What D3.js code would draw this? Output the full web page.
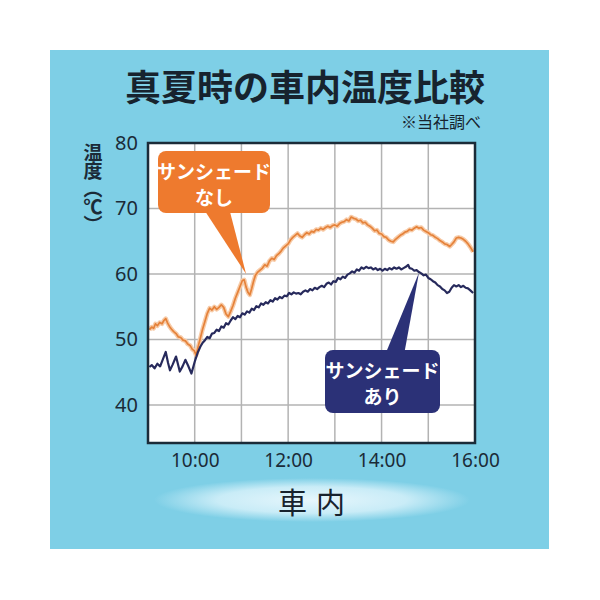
<!DOCTYPE html>
<html>
<head>
<meta charset="utf-8">
<script src="https://cdn.jsdelivr.net/npm/d3@7"></script>
<style>
  html, body { margin: 0; padding: 0; background: #fff; }
  svg { display: block; }
  text { font-family: "Noto Sans CJK JP", "Noto Sans", sans-serif; }
</style>
</head>
<body>
<svg id="chart" width="600" height="600"></svg>
<script>
// [hour, temperature]
var nashiData = [
  [9.03, 51.5], [9.08, 51.9], [9.12, 51.7], [9.16, 52.4], [9.2, 52.1], [9.25, 52.6], [9.3, 52.4], [9.34, 52.9],
  [9.38, 53.2], [9.42, 52.5], [9.46, 52.0], [9.5, 51.6], [9.55, 51.2], [9.6, 50.9], [9.65, 50.4], [9.7, 50.3],
  [9.75, 49.9], [9.8, 49.8], [9.85, 49.3], [9.9, 49.1], [9.95, 48.5], [9.99, 48.3], [10.03, 47.6],
  [10.07, 48.8], [10.12, 50.2], [10.17, 51.6], [10.22, 52.8], [10.27, 54.0], [10.32, 54.8], [10.37, 54.5],
  [10.42, 55.0], [10.47, 54.6], [10.52, 54.9], [10.57, 55.3], [10.62, 54.9], [10.67, 53.9], [10.72, 53.5],
  [10.77, 54.3], [10.82, 55.2], [10.87, 56.3], [10.92, 57.2], [10.97, 58.1], [11.02, 59.0], [11.06, 59.1],
  [11.1, 58.0], [11.14, 57.2], [11.18, 56.8], [11.22, 57.8], [11.26, 58.9], [11.3, 59.8], [11.35, 60.3],
  [11.4, 60.6], [11.45, 60.9], [11.5, 61.4], [11.55, 61.2], [11.6, 62.0], [11.65, 62.4], [11.7, 62.2],
  [11.75, 62.8], [11.8, 63.1], [11.85, 63.5], [11.9, 64.0], [11.95, 64.3], [12.0, 64.6], [12.05, 65.2],
  [12.1, 65.6], [12.15, 65.9], [12.2, 66.2], [12.25, 65.8], [12.3, 65.6], [12.35, 66.0], [12.4, 66.3],
  [12.45, 66.1], [12.5, 66.5], [12.55, 66.4], [12.6, 66.8], [12.65, 66.7], [12.7, 67.0], [12.75, 66.8],
  [12.8, 67.1], [12.85, 67.3], [12.9, 67.1], [12.95, 67.4], [13.0, 67.5], [13.05, 67.3], [13.1, 67.7],
  [13.15, 67.9], [13.2, 68.0], [13.25, 68.3], [13.3, 68.1], [13.35, 68.7], [13.4, 68.5], [13.45, 68.4],
  [13.5, 68.1], [13.55, 68.2], [13.6, 67.8], [13.65, 67.9], [13.7, 67.5], [13.75, 67.3], [13.8, 67.0],
  [13.85, 66.6], [13.9, 66.7], [13.95, 66.2], [14.0, 66.1], [14.05, 65.7], [14.1, 65.6], [14.15, 65.2],
  [14.2, 65.0], [14.25, 64.9], [14.3, 65.3], [14.35, 65.6], [14.4, 65.9], [14.45, 66.1], [14.5, 66.4],
  [14.55, 66.5], [14.6, 66.8], [14.65, 66.7], [14.7, 67.0], [14.75, 67.2], [14.8, 67.0], [14.85, 67.1],
  [14.9, 66.7], [14.95, 66.5], [15.0, 66.3], [15.05, 66.0], [15.1, 65.9], [15.15, 65.6], [15.2, 65.4],
  [15.25, 65.1], [15.3, 64.9], [15.35, 64.6], [15.4, 64.5], [15.46, 64.2], [15.5, 64.5], [15.55, 64.9],
  [15.6, 65.5], [15.65, 65.6], [15.7, 65.5], [15.75, 65.3], [15.8, 65.0], [15.85, 64.6], [15.9, 64.1],
  [15.96, 63.4]
];

var ariData = [
  [9.03, 45.8], [9.08, 46.1], [9.14, 45.6], [9.2, 46.3], [9.26, 45.9], [9.32, 47.0], [9.38, 48.1], [9.43, 46.4],
  [9.47, 45.3], [9.53, 46.2], [9.6, 47.4], [9.65, 46.0], [9.68, 45.1], [9.74, 45.9], [9.8, 46.9], [9.86, 46.0],
  [9.93, 44.8], [10.0, 46.6], [10.07, 48.1], [10.12, 48.9], [10.17, 49.5], [10.22, 49.9], [10.27, 50.4],
  [10.32, 50.2], [10.37, 50.9], [10.42, 51.0], [10.47, 51.5], [10.52, 51.3], [10.57, 52.0], [10.62, 51.8],
  [10.67, 52.5], [10.72, 52.3], [10.77, 52.9], [10.82, 53.4], [10.87, 53.1], [10.92, 53.6], [10.97, 53.4],
  [11.02, 54.0], [11.07, 53.8], [11.12, 54.3], [11.17, 54.1], [11.22, 54.7], [11.27, 54.5], [11.32, 55.1],
  [11.37, 54.9], [11.42, 55.5], [11.47, 55.3], [11.52, 55.7], [11.57, 55.5], [11.62, 56.0], [11.67, 55.8],
  [11.72, 56.3], [11.77, 56.1], [11.82, 56.5], [11.87, 56.3], [11.92, 56.7], [11.97, 56.6], [12.02, 57.1],
  [12.07, 56.9], [12.12, 57.2], [12.17, 57.0], [12.22, 57.1], [12.27, 56.9], [12.32, 57.3], [12.37, 57.5],
  [12.42, 57.3], [12.47, 57.7], [12.52, 57.5], [12.57, 57.9], [12.62, 57.7], [12.67, 58.0], [12.72, 58.2],
  [12.77, 58.0], [12.82, 58.5], [12.87, 58.7], [12.92, 58.4], [12.97, 58.9], [13.02, 58.8], [13.07, 59.4],
  [13.12, 59.2], [13.17, 59.6], [13.22, 59.4], [13.27, 59.9], [13.32, 60.1], [13.37, 60.4], [13.42, 60.2],
  [13.47, 60.7], [13.52, 60.5], [13.57, 61.0], [13.62, 60.8], [13.67, 61.1], [13.72, 60.9], [13.77, 61.0],
  [13.82, 60.7], [13.87, 60.9], [13.92, 60.6], [13.97, 60.8], [14.02, 60.5], [14.07, 60.8], [14.12, 60.6],
  [14.17, 60.9], [14.22, 60.7], [14.27, 61.0], [14.32, 60.8], [14.37, 61.0], [14.42, 60.7], [14.47, 60.9],
  [14.52, 61.1], [14.57, 61.4], [14.6, 60.9], [14.65, 60.8], [14.7, 60.5], [14.75, 60.6], [14.8, 60.3],
  [14.85, 60.1], [14.9, 59.8], [14.95, 59.9], [15.0, 59.4], [15.05, 59.2], [15.1, 58.9], [15.15, 58.7],
  [15.2, 58.3], [15.25, 58.1], [15.3, 57.7], [15.35, 57.5], [15.4, 57.1], [15.45, 57.3], [15.5, 57.9],
  [15.55, 58.3], [15.6, 58.1], [15.65, 58.3], [15.7, 58.0], [15.75, 58.2], [15.8, 57.9], [15.85, 57.8],
  [15.9, 57.5], [15.96, 57.1]
];

var yTicks = [40, 50, 60, 70, 80];
var xTicks = [10, 12, 14, 16];
var xGrid = [10, 11, 12, 13, 14, 15];
var xTickLabels = ["10:00", "12:00", "14:00", "16:00"];

var svg = d3.select("#chart");

var x = d3.scaleLinear().domain([9, 16]).range([148, 475]);
var y = d3.scaleLinear().domain([34.2, 80]).range([443, 143]);

var defs = svg.append("defs");
var glow = defs.append("radialGradient").attr("id", "glow");
glow.append("stop").attr("offset", "0%").attr("stop-color", "#e6f6fc");
glow.append("stop").attr("offset", "60%").attr("stop-color", "#c9ecf7");
glow.append("stop").attr("offset", "100%").attr("stop-color", "#7ecfe6");

// blue panel
svg.append("rect")
    .attr("x", 50).attr("y", 50)
    .attr("width", 499).attr("height", 499)
    .attr("fill", "#7ecfe6");

// title
svg.append("text")
    .attr("x", 305).attr("y", 101)
    .attr("text-anchor", "middle")
    .attr("font-size", 36)
    .attr("font-weight", "bold")
    .attr("fill", "#17232e")
    .text("真夏時の車内温度比較");

svg.append("text")
    .attr("x", 481).attr("y", 128)
    .attr("text-anchor", "end")
    .attr("font-size", 16)
    .attr("fill", "#17232e")
    .text("※当社調べ");

// plot background
svg.append("rect")
    .attr("x", x(9)).attr("y", y(80))
    .attr("width", x(16) - x(9)).attr("height", y(34.2) - y(80))
    .attr("fill", "#fff");

// grid
svg.append("g").selectAll("line")
  .data(xGrid)
  .enter().append("line")
    .attr("x1", x).attr("x2", x)
    .attr("y1", y(80)).attr("y2", y(34.2))
    .attr("stroke", "#b3b3b3").attr("stroke-width", 1.5);

svg.append("g").selectAll("line")
  .data(yTicks.slice(0, 4))
  .enter().append("line")
    .attr("x1", x(9)).attr("x2", x(16))
    .attr("y1", y).attr("y2", y)
    .attr("stroke", "#b3b3b3").attr("stroke-width", 1.5);

// lines
var line = d3.line()
    .x(function(d) { return x(d[0]); })
    .y(function(d) { return y(d[1]); });

svg.append("path")
    .datum(nashiData)
    .attr("d", line)
    .attr("fill", "none")
    .attr("stroke", "#f7cba8")
    .attr("stroke-width", 4.5)
    .attr("stroke-linejoin", "round");
svg.append("path")
    .datum(nashiData)
    .attr("d", line)
    .attr("fill", "none")
    .attr("stroke", "#e5823a")
    .attr("stroke-width", 1.7)
    .attr("stroke-linejoin", "round");

svg.append("path")
    .datum(ariData)
    .attr("d", line)
    .attr("fill", "none")
    .attr("stroke", "#272a5c")
    .attr("stroke-width", 2.2)
    .attr("stroke-linejoin", "round");

// frame
svg.append("rect")
    .attr("x", x(9)).attr("y", y(80))
    .attr("width", x(16) - x(9)).attr("height", y(34.2) - y(80))
    .attr("fill", "none")
    .attr("stroke", "#1b2b38")
    .attr("stroke-width", 2.5);

// axes
var yAxis = svg.append("g")
    .attr("transform", "translate(" + (x(9) - 10) + ",0)")
    .call(d3.axisLeft(y).tickValues(yTicks).tickSize(0).tickPadding(0));
yAxis.select(".domain").remove();
yAxis.selectAll("text")
    .attr("font-size", 20)
    .attr("fill", "#1b2b38")
    .style("font-family", "'Noto Sans', sans-serif");

var xAxis = svg.append("g")
    .attr("transform", "translate(0," + (y(34.2) + 10) + ")")
    .call(d3.axisBottom(x).tickValues(xTicks).tickSize(0).tickPadding(0)
      .tickFormat(function(d, i) { return xTickLabels[i]; }));
xAxis.select(".domain").remove();
xAxis.selectAll("text")
    .attr("font-size", 19)
    .attr("fill", "#1b2b38")
    .style("font-family", "'Noto Sans', sans-serif");

// y axis title (vertical)
svg.append("text")
    .attr("x", 93).attr("y", 143)
    .attr("writing-mode", "tb")
    .attr("font-size", 19)
    .attr("font-weight", "bold")
    .attr("fill", "#1b2b38")
    .style("letter-spacing", "-1px")
    .text("温度（℃）");

// x axis title on a soft ellipse
svg.append("ellipse")
    .attr("cx", 312).attr("cy", 500)
    .attr("rx", 158).attr("ry", 22)
    .attr("fill", "url(#glow)");
svg.append("text")
    .attr("x", 316).attr("y", 514)
    .attr("text-anchor", "middle")
    .attr("font-size", 29)
    .attr("fill", "#17232e")
    .style("letter-spacing", "9px")
    .text("車内");

// callouts
function callout(box, base, tip, color, lines) {
  var g = svg.append("g");
  g.append("path")
      .attr("d", "M" + base[0][0] + "," + base[0][1] + "L" + tip[0] + "," + tip[1] + "L" + base[1][0] + "," + base[1][1] + "Z")
      .attr("fill", color);
  g.append("rect")
      .attr("x", box[0]).attr("y", box[1])
      .attr("width", box[2]).attr("height", box[3])
      .attr("rx", 8)
      .attr("fill", color);
  g.selectAll("text")
    .data(lines)
    .enter().append("text")
      .attr("x", box[0] + box[2] / 2)
      .attr("y", function(d, i) { return box[1] + 28 + i * 26; })
      .attr("text-anchor", "middle")
      .attr("font-size", 19)
      .attr("font-weight", "bold")
      .attr("fill", "#fff")
      .text(function(d) { return d; });
}

callout([158, 151, 112, 62], [[203, 208], [229, 208]], [x(11.1), y(60)], "#ee7a2e", ["サンシェード", "なし"]);
callout([325, 350, 115, 63], [[385, 355], [404, 355]], [x(14.8), y(60.2)], "#2b3177", ["サンシェード", "あり"]);
</script>
</body>
</html>
